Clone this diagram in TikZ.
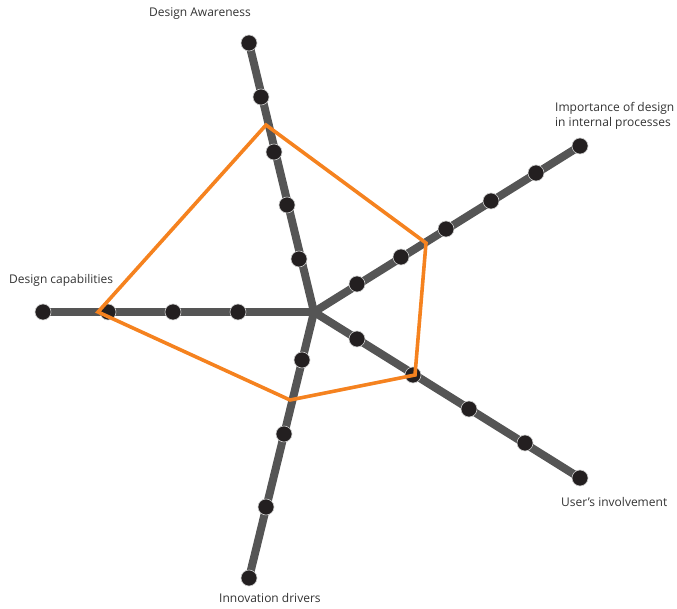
\documentclass[tikz,border=0pt]{standalone}
\usepackage{fontspec}
\setmainfont{Open Sans}
\definecolor{axisgray}{HTML}{555555}
\definecolor{dotfill}{HTML}{231F20}
\definecolor{webor}{HTML}{F5821F}
\definecolor{labelgray}{HTML}{333333}
\begin{document}
\begin{tikzpicture}[x=1pt,y=-1pt,
  axisline/.style={draw=axisgray,line width=8pt},
  tick/.style={circle,fill=dotfill,draw=white!80!black,line width=0.6pt,minimum size=16pt,inner sep=0pt},
  score/.style={draw=webor,line width=3.6pt,line join=miter},
  lbl/.style={font=\fontsize{12}{15.5}\selectfont,text=labelgray,inner sep=0pt}]
\useasboundingbox (0,0) rectangle (677,609);
% centre of the web
\coordinate (c) at (314,312);
% axis ends
\coordinate (aw) at (249,43);
\coordinate (im) at (580,146);
\coordinate (ca) at (43,312);
\coordinate (us) at (580,478);
\coordinate (in) at (249,578);
% spokes
\foreach \e in {aw,im,ca,us,in} \draw[axisline] (c) -- (\e);
% scale marks
\foreach \p [count=\i] in {(249,43),(261,97),(274,152),(287,205),(299,259),
  (580,146),(536,173),(491,201),(446,229),(401,257),(357,284),
  (43,312),(108,312),(173,312),(238,312),
  (357,339),(413,375),(469,409),(525,443),(580,478),
  (302,360),(284,434),(266,507),(249,578)}
  \node[tick] (t\i) at \p {};
% score polygon
\coordinate (s1) at (266,125);
\coordinate (s2) at (426,243);
\coordinate (s3) at (415,375);
\coordinate (s4) at (290,400);
\coordinate (s5) at (98,312);
\draw[score] (s1) -- (s2) -- (s3) -- (s4) -- (s5) -- cycle;
% axis labels
\node[lbl] (law) at (200,14) {Design Awareness};
\node[lbl,anchor=west,align=left] (lim) at (555,116) {Importance of design\\in internal processes};
\node[lbl,anchor=west] (lca) at (9,280) {Design capabilities};
\node[lbl,anchor=west] (lus) at (561,502) {User’s involvement};
\node[lbl,anchor=west] (lin) at (219,598) {Innovation drivers};
\end{tikzpicture}
\end{document}
